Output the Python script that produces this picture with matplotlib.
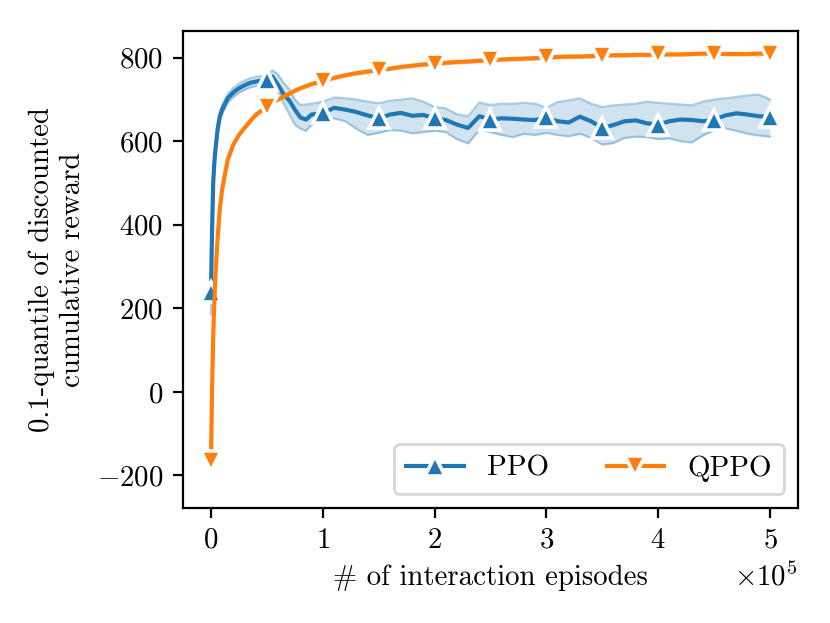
import matplotlib
matplotlib.use("Agg")
import matplotlib.pyplot as plt

plt.rcParams['font.family'] = 'serif'
plt.rcParams['font.serif'] = ['cmr10']
plt.rcParams['mathtext.fontset'] = 'cm'
plt.rcParams['axes.formatter.use_mathtext'] = True
plt.rcParams['font.size'] = 10.4

# episodes (x axis)
episodes = [0, 1000, 2000, 3000, 4000, 6000, 8000, 10000, 15000, 20000, 25000,
            30000, 35000, 40000, 45000, 50000, 55000, 60000, 65000, 70000, 75000,
            80000, 85000, 90000, 100000, 110000, 120000, 130000, 140000, 150000,
            160000, 170000, 180000, 190000, 200000, 210000, 220000, 230000, 240000,
            250000, 260000, 270000, 280000, 290000, 300000, 310000, 320000, 330000,
            340000, 350000, 360000, 370000, 380000, 390000, 400000, 410000, 420000,
            430000, 440000, 450000, 460000, 470000, 480000, 490000, 500000]

# PPO mean and band
ppo = [240, 390, 500, 548, 580, 630, 660, 676, 703, 717, 727,
       734, 740, 743, 745, 747, 755, 735, 712, 698, 676,
       657, 652, 664, 667, 680, 676, 670, 662, 655,
       664, 668, 661, 663, 655, 651, 640, 632, 660,
       652, 655, 654, 652, 651, 657, 648, 645, 659,
       648, 632, 639, 648, 650, 643, 640, 648, 652,
       651, 648, 651, 662, 667, 664, 660, 658]
ppo_lo = [185, 375, 488, 537, 569, 619, 649, 665, 692, 706, 716,
          723, 729, 732, 734, 736, 740, 720, 690, 665, 640,
          630, 625, 640, 645, 655, 648, 630, 615, 620,
          627, 625, 619, 622, 625, 622, 605, 595, 627,
          622, 615, 610, 618, 615, 620, 615, 612, 618,
          608, 592, 596, 608, 611, 610, 605, 607, 600,
          597, 614, 626, 631, 625, 618, 614, 611]
ppo_hi = [290, 405, 512, 559, 591, 641, 671, 687, 714, 728, 738,
          745, 751, 754, 756, 758, 770, 760, 740, 725, 700,
          687, 688, 690, 695, 705, 703, 700, 695, 691,
          697, 700, 703, 695, 682, 679, 665, 660, 693,
          687, 690, 690, 692, 690, 680, 694, 698, 703,
          690, 682, 686, 688, 690, 695, 692, 690, 688,
          686, 695, 700, 703, 706, 710, 712, 700]

# QPPO mean and band half width
qppo = [-165, 10, 130, 215, 280, 370, 440, 485, 556, 592, 615,
        632, 648, 663, 673, 682, 692, 700, 707, 714, 721,
        727, 732, 737, 745, 752, 758, 763, 767, 771,
        774, 778, 781, 784, 786, 788, 790, 791, 793,
        794, 796, 797, 798, 799, 801, 802, 803, 803,
        804, 805, 806, 806, 807, 807, 808, 808, 808,
        809, 810, 810, 809, 809, 809, 810, 810]
qppo_err = [60, 20, 15, 12, 10, 8, 7, 6, 6, 5, 5,
            5, 5, 5, 5, 5, 5, 5, 5, 5, 5,
            5, 5, 5, 5, 5, 5, 5, 5, 5,
            5, 5, 5, 5, 5, 5, 5, 5, 5,
            5, 5, 5, 5, 5, 5, 5, 5, 5,
            5, 5, 5, 5, 5, 5, 5, 5, 5,
            5, 5, 5, 5, 5, 5, 5, 5]

blue = '#1f77b4'
orange = '#ff7f0e'

marks = [i for i, e in enumerate(episodes) if e % 50000 == 0]

fig = plt.figure(figsize=(4.15, 3.115), dpi=200)
ax = fig.add_axes([0.2205, 0.1846, 0.7409, 0.7656])

qppo_lo = [m - e for m, e in zip(qppo, qppo_err)]
qppo_hi = [m + e for m, e in zip(qppo, qppo_err)]

ax.fill_between(episodes, ppo_lo, ppo_hi, color=blue, alpha=0.2, lw=0)
ax.plot(episodes, ppo_lo, color=blue, alpha=0.35, lw=0.8)
ax.plot(episodes, ppo_hi, color=blue, alpha=0.35, lw=0.8)
ax.fill_between(episodes, qppo_lo, qppo_hi, color=orange, alpha=0.3, lw=0)

ax.plot(episodes, ppo, color=blue, marker='^', markevery=marks, markersize=7.5,
        markeredgecolor='white', markeredgewidth=1.3, label='PPO')
ax.plot(episodes, qppo, color=orange, marker='v', markevery=marks, markersize=7.5,
        markeredgecolor='white', markeredgewidth=1.3, label='QPPO')

ax.set_xlim(-25000, 525000)
ax.set_ylim(-278, 864)
ax.set_yticks([-200, 0, 200, 400, 600, 800])
ax.ticklabel_format(axis='x', style='sci', scilimits=(0, 0), useMathText=True)

ax.set_xlabel('# of interaction episodes')
ax.set_ylabel('0.1-quantile of discounted\ncumulative reward')
ax.legend(loc='lower right', ncol=2)

fig.savefig('out.png', dpi=200)
